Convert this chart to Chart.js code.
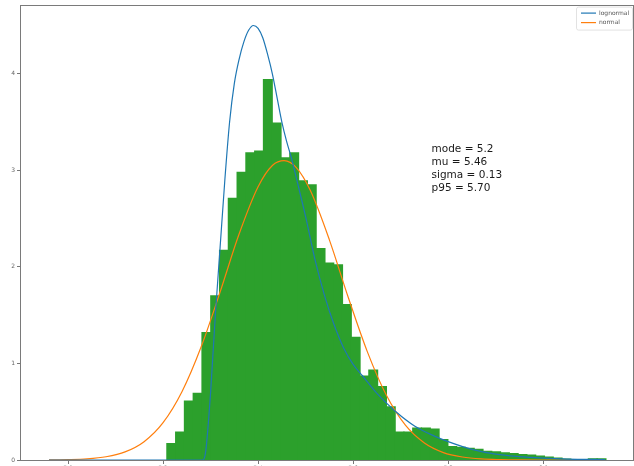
<!DOCTYPE html>
<html>
<head>
<meta charset="utf-8">
<script src="https://cdn.jsdelivr.net/npm/chart.js@4.4.1/dist/chart.umd.min.js"></script>
<style>
  html, body { margin: 0; padding: 0; background: #ffffff; overflow: hidden; }
  canvas { display: block; }
</style>
</head>
<body>
<canvas id="chart" width="634" height="466"></canvas>
<script>
// Histogram: 50 equal-width bins spanning [binLo, binHi], density-normalised
const binLo = 5.208;
const binHi = 6.132;
const histDensity = [
  0.17, 0.29, 0.61, 0.69, 1.32, 1.70, 2.17, 2.71, 2.98, 3.18,
  3.20, 3.94, 3.49, 3.13, 3.18, 2.89, 2.85, 2.19, 2.04, 2.02,
  1.61, 1.27, 0.87, 0.93, 0.76, 0.55, 0.29, 0.29, 0.33, 0.33,
  0.32, 0.21, 0.14, 0.13, 0.12, 0.11, 0.09, 0.085, 0.075, 0.065,
  0.055, 0.05, 0.04, 0.03, 0.02, 0.01, 0.005, 0.0, 0.012, 0.012
];

// Fitted lognormal density, sampled
const lognormX = [4.96, 5.284, 5.29, 5.30, 5.31, 5.32, 5.33, 5.34, 5.35, 5.36,
  5.37, 5.38, 5.39, 5.40, 5.41, 5.42, 5.43, 5.44, 5.45, 5.46,
  5.47, 5.48, 5.50, 5.52, 5.54, 5.56, 5.58, 5.60, 5.62, 5.65,
  5.69, 5.73, 5.77, 5.80, 5.85, 5.90, 5.95, 6.00, 6.05, 6.13];
const lognormY = [0, 0, 0.10, 0.70, 1.50, 2.20, 2.90, 3.50, 3.90, 4.15,
  4.33, 4.45, 4.50, 4.47, 4.37, 4.20, 4.00, 3.75, 3.50, 3.30,
  3.13, 2.93, 2.52, 2.07, 1.70, 1.40, 1.16, 0.99, 0.87, 0.69,
  0.50, 0.35, 0.25, 0.19, 0.11, 0.06, 0.035, 0.02, 0.01, 0.004];

// Fitted normal density, sampled
const normX = [4.96, 5.00, 5.04, 5.08, 5.12, 5.16, 5.20, 5.24, 5.28, 5.32,
  5.36, 5.40, 5.43, 5.455, 5.48, 5.51, 5.55, 5.59, 5.63, 5.67,
  5.71, 5.75, 5.79, 5.83, 5.87, 5.91, 5.95, 6.00, 6.13];
const normY = [0.001, 0.004, 0.012, 0.034, 0.084, 0.19, 0.387, 0.71, 1.17, 1.74,
  2.34, 2.83, 3.05, 3.10, 3.03, 2.79, 2.28, 1.68, 1.12, 0.67,
  0.36, 0.176, 0.077, 0.031, 0.011, 0.004, 0.001, 0, 0];

const xTicks = [5.0, 5.2, 5.4, 5.6, 5.8, 6.0];
const yTicks = [0, 1, 2, 3, 4];
const seriesNames = ['lognormal', 'normal'];
const statsLines = ['mode = 5.2', 'mu = 5.46', 'sigma = 0.13', 'p95 = 5.70'];

// ---- build datasets ----
const nBins = histDensity.length;
const binW = (binHi - binLo) / nBins;
const histPoints = histDensity.map((d, i) => ({ x: binLo + binW * (i + 0.5), y: d }));
const toPts = (xs, ys) => xs.map((x, i) => ({ x: x, y: ys[i] }));

const FONT = 'DejaVu Sans, sans-serif';

// Full box around the plot area (all four spines)
const framePlugin = {
  id: 'frame',
  afterDatasetsDraw(chart) {
    const { ctx, chartArea: a } = chart;
    ctx.save();
    ctx.strokeStyle = '#7a7a7a';
    ctx.lineWidth = 1;
    ctx.strokeRect(Math.round(a.left) - 0.5, Math.round(a.top) - 0.5,
      Math.round(a.right - a.left) + 1, Math.round(a.bottom - a.top) + 1);
    ctx.restore();
  }
};

// Statistics text block, anchored in data coordinates
const statsPlugin = {
  id: 'stats',
  afterDatasetsDraw(chart, args, opts) {
    const { ctx, scales } = chart;
    const x = scales.x.getPixelForValue(opts.x);
    const y = scales.y.getPixelForValue(opts.y);
    ctx.save();
    ctx.fillStyle = '#1a1a1a';
    ctx.font = '10.5px ' + FONT;
    ctx.textAlign = 'left';
    ctx.textBaseline = 'middle';
    opts.lines.forEach((t, i) => ctx.fillText(t, x, y + i * 12.9));
    ctx.restore();
  }
};

// Small line legend in the upper-right corner of the plot area
const cornerLegend = {
  id: 'cornerLegend',
  afterDraw(chart) {
    const { ctx, chartArea: a } = chart;
    const items = chart.data.datasets.filter(d => d.type === 'line');
    const boxW = 56, rowH = 9.5;
    const boxH = items.length * rowH + 4;
    const bx = a.right - boxW - 1, by = a.top + 1;
    ctx.save();
    ctx.fillStyle = 'rgba(255,255,255,0.85)';
    ctx.strokeStyle = '#e2e2e2';
    ctx.lineWidth = 1;
    ctx.beginPath();
    ctx.roundRect(bx + 0.5, by + 0.5, boxW, boxH, 2);
    ctx.fill();
    ctx.stroke();
    ctx.font = '6px ' + FONT;
    ctx.textBaseline = 'middle';
    items.forEach((d, i) => {
      const cy = by + 6.5 + i * rowH;
      ctx.strokeStyle = d.borderColor;
      ctx.lineWidth = 1.2;
      ctx.beginPath();
      ctx.moveTo(bx + 5, cy);
      ctx.lineTo(bx + 20, cy);
      ctx.stroke();
      ctx.fillStyle = '#555';
      ctx.fillText(d.label, bx + 23, cy);
    });
    ctx.restore();
  }
};

new Chart(document.getElementById('chart'), {
  type: 'bar',
  data: {
    datasets: [
      {
        type: 'line', label: seriesNames[0], data: toPts(lognormX, lognormY),
        borderColor: '#1f77b4', borderWidth: 1.2, pointRadius: 0,
        cubicInterpolationMode: 'monotone', order: 1
      },
      {
        type: 'line', label: seriesNames[1], data: toPts(normX, normY),
        borderColor: '#ff7f0e', borderWidth: 1.2, pointRadius: 0,
        cubicInterpolationMode: 'monotone', order: 1
      },
      {
        type: 'bar', label: 'hist', data: histPoints,
        backgroundColor: '#2ca02c', borderWidth: 0,
        barPercentage: 1.0, categoryPercentage: 1.0, inflateAmount: 0.6,
        order: 2
      }
    ]
  },
  options: {
    responsive: false,
    animation: false,
    devicePixelRatio: 1,
    layout: { padding: { top: 2, right: 1, left: 0, bottom: 0 } },
    plugins: {
      legend: { display: false },
      tooltip: { enabled: false },
      stats: { x: 5.765, y: 3.213, lines: statsLines }
    },
    scales: {
      x: {
        type: 'linear', min: 4.901, max: 6.189, offset: false,
        border: { display: false },
        grid: { display: true, drawOnChartArea: false, drawTicks: true,
                tickLength: 4, tickColor: '#777', offset: false },
        ticks: { color: '#666', font: { size: 6, family: FONT }, padding: 1,
                 maxRotation: 0, autoSkip: false,
                 callback: v => Number(v).toFixed(1) },
        afterBuildTicks: s => { s.ticks = xTicks.map(v => ({ value: v })); },
        afterFit: s => { s.height = 6; }
      },
      y: {
        min: 0, max: 4.706,
        border: { display: false },
        grid: { display: true, drawOnChartArea: false, drawTicks: true,
                tickLength: 4, tickColor: '#777' },
        ticks: { color: '#666', font: { size: 6, family: FONT }, padding: 2,
                 autoSkip: false, callback: v => String(v) },
        afterBuildTicks: s => { s.ticks = yTicks.map(v => ({ value: v })); },
        afterFit: s => { s.width = 21; }
      }
    }
  },
  plugins: [framePlugin, statsPlugin, cornerLegend]
});
</script>
</body>
</html>
